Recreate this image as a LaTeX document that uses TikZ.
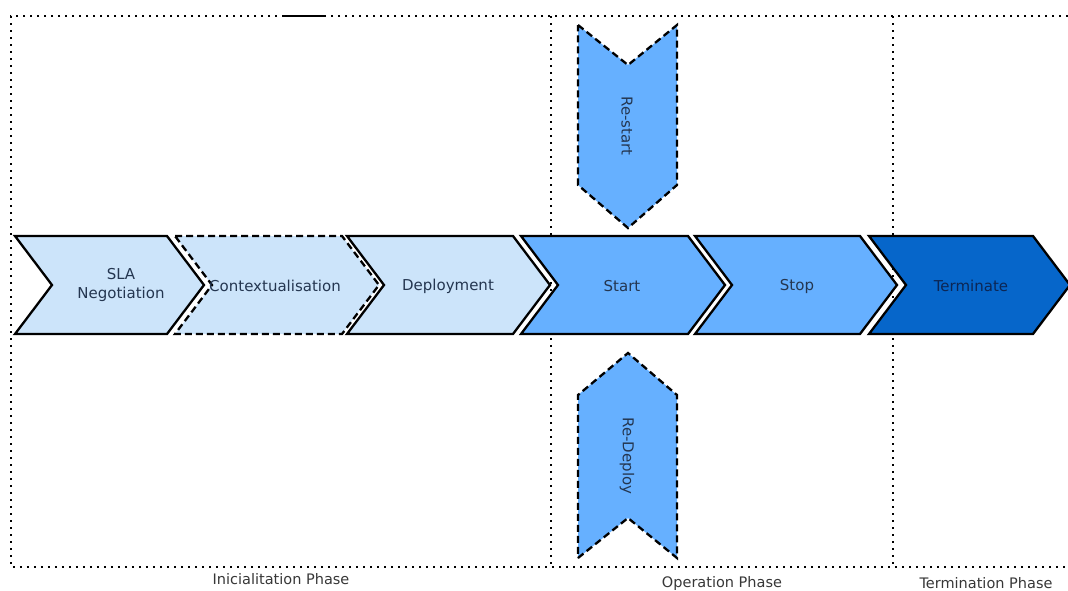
\documentclass[tikz,border=0pt]{standalone}
\usepackage{fontspec}
\setmainfont{DejaVu Sans}
\definecolor{paleblue}{RGB}{204,228,250}
\definecolor{midblue}{RGB}{102,176,255}
\definecolor{deepblue}{RGB}{6,102,202}
\definecolor{labeltext}{RGB}{36,54,80}
\definecolor{darktext}{RGB}{12,38,84}
\definecolor{phasetext}{RGB}{55,55,55}
\begin{document}
\begin{tikzpicture}[x=1pt,y=-1pt,
  chevron/.style={draw=black,line width=2.3pt,line join=miter},
  dashedchevron/.style={draw=black,line width=2.3pt,dash pattern=on 7pt off 4pt},
  stagelabel/.style={font=\fontsize{15}{18.5}\selectfont,text=labeltext,align=center},
  phaselabel/.style={font=\fontsize{14.5}{17}\selectfont,text=phasetext},
  phaseline/.style={line width=2.2pt,dash pattern=on 2pt off 5pt}]
\useasboundingbox (0,0) rectangle (1068,590);

% phase frame
\draw[phaseline] (1068,16) -- (11,16) -- (11,567) -- (1068,567);
\draw[phaseline] (551,16) -- (551,567);
\draw[phaseline] (893,16) -- (893,567);
\draw[line width=1.2pt] (282,16) -- (325,16);

% main row of chevrons: left edge, right shoulder, depth 37
\fill[paleblue] (15,236) -- (167,236) -- (204,285) -- (167,334) -- (15,334) -- (52,285) -- cycle;
\draw[chevron] (15,236) -- (167,236) -- (204,285) -- (167,334) -- (15,334) -- (52,285) -- cycle;
\node[stagelabel] (sla) at (121,285) {SLA\\Negotiation};

\fill[paleblue] (175,236) -- (342,236) -- (379,285) -- (342,334) -- (175,334) -- (212,285) -- cycle;
\draw[dashedchevron] (175,236) -- (342,236) -- (379,285) -- (342,334) -- (175,334) -- (212,285) -- cycle;
\node[stagelabel] (ctx) at (275,286) {Contextualisation};

\fill[paleblue] (347,236) -- (513,236) -- (550,285) -- (513,334) -- (347,334) -- (384,285) -- cycle;
\draw[chevron] (347,236) -- (513,236) -- (550,285) -- (513,334) -- (347,334) -- (384,285) -- cycle;
\node[stagelabel] (dep) at (448,286) {Deployment};

\fill[midblue] (521,236) -- (688,236) -- (725,285) -- (688,334) -- (521,334) -- (558,285) -- cycle;
\draw[chevron] (521,236) -- (688,236) -- (725,285) -- (688,334) -- (521,334) -- (558,285) -- cycle;
\node[stagelabel] (start) at (622,286) {Start};

\fill[midblue] (695,236) -- (860,236) -- (897,285) -- (860,334) -- (695,334) -- (732,285) -- cycle;
\draw[chevron] (695,236) -- (860,236) -- (897,285) -- (860,334) -- (695,334) -- (732,285) -- cycle;
\node[stagelabel] (stop) at (797,286) {Stop};

\fill[deepblue] (869,236) -- (1033,236) -- (1070,285) -- (1033,334) -- (869,334) -- (906,285) -- cycle;
\draw[chevron] (869,236) -- (1033,236) -- (1070,285) -- (1033,334) -- (869,334) -- (906,285) -- cycle;
\node[stagelabel,text=darktext] (term) at (971,286) {Terminate};

% vertical chevrons
\fill[midblue] (578,25) -- (628,65) -- (677,25) -- (677,185) -- (628,228) -- (578,185) -- cycle;
\draw[dashedchevron] (578,25) -- (628,65) -- (677,25) -- (677,185) -- (628,228) -- (578,185) -- cycle;
\node[stagelabel,rotate=-90] (restart) at (627,126) {Re-start};

\fill[midblue] (578,558) -- (628,518) -- (677,558) -- (677,395) -- (628,353) -- (578,395) -- cycle;
\draw[dashedchevron] (578,558) -- (628,518) -- (677,558) -- (677,395) -- (628,353) -- (578,395) -- cycle;
\node[stagelabel,rotate=-90] (redeploy) at (627,456) {Re-Deploy};

% phase names
\node[phaselabel] (init) at (281,579) {Inicialitation Phase};
\node[phaselabel] (oper) at (722,583) {Operation Phase};
\node[phaselabel] (termp) at (986,583) {Termination Phase};
\end{tikzpicture}
\end{document}
